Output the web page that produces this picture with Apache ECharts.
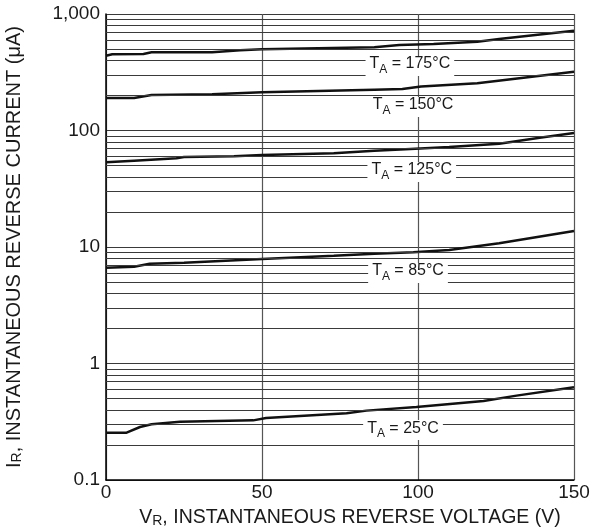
<!DOCTYPE html>
<html>
<head>
<meta charset="utf-8">
<script src="https://cdn.jsdelivr.net/npm/echarts@6/dist/echarts.min.js"></script>
<style>
  html, body { margin: 0; padding: 0; background: #fff; }
  #chart { width: 594px; height: 530px; }
</style>
</head>
<body>
<div id="chart"></div>
<script>
// curves: reverse voltage (V) / reverse current (uA)
const vr175 = [0, 2, 12, 14.6, 34, 43, 50, 86, 94, 105, 119, 126, 150]
const ir175 = [438, 451, 454, 469, 469, 488, 498, 518, 542, 552, 578, 610, 719]

const vr150 = [0, 9, 14.6, 34, 50, 86, 95, 101, 119, 150]
const ir150 = [190, 190, 202, 205, 213, 224, 227, 239, 254, 320]

const vr125 = [0, 9, 22.6, 25, 41, 50, 73, 86, 96, 110, 126, 139, 150]
const ir125 = [53.3, 55.1, 57.7, 59.3, 60.1, 61.6, 63.7, 67.1, 69.0, 72.2, 77.1, 86.8, 95.2]

const vr85 = [0, 9, 14, 25, 50, 73, 86, 98.5, 110, 126, 150]
const ir85 = [6.64, 6.78, 7.19, 7.33, 7.89, 8.41, 8.76, 9.0, 9.42, 10.76, 13.7]

const vr25 = [0, 6.6, 10.9, 14.6, 23.7, 47.2, 51.3, 77.1, 83.5, 99.5, 121, 131.6, 150]
const ir25 = [0.255, 0.255, 0.285, 0.301, 0.316, 0.325, 0.340, 0.374, 0.394, 0.424, 0.476, 0.530, 0.625]

// curve labels (temperature) and where they sit
const tempLabels = ['175°C', '150°C', '125°C', '85°C', '25°C']
const labelV = [97.4, 98.4, 98, 96.8, 95.2]
const labelI = [358, 159, 44, 5.98, 0.268]

// log grid: minor lines between decades
const minorGrid = [0.2, 0.3, 0.4, 0.5, 0.6, 0.7, 0.8, 0.9,
  2, 3, 4, 5, 6, 7, 8, 9,
  20, 30, 40, 50, 60, 70, 80, 90,
  200, 300, 400, 500, 600, 700, 800, 900]

const FONT = '"Liberation Sans", Arial, sans-serif'
const INK = '#1a1a1a'
const GRID = '#3a3a3a'

const zip = (xs, ys) => xs.map((x, i) => [x, ys[i]])

const curve = (xs, ys) => ({
  type: 'line',
  data: zip(xs, ys),
  showSymbol: false,
  symbol: 'none',
  z: 3,
  lineStyle: { color: '#111', width: 2.5 },
  animation: false
})

// text with a subscript, e.g. V_R
const subRich = (big, small) => ({
  t: { fontSize: big, color: INK, fontFamily: FONT, lineHeight: 14, verticalAlign: 'top' },
  s: { fontSize: small, color: INK, fontFamily: FONT, lineHeight: 20, verticalAlign: 'bottom' }
})

const myChart = echarts.init(document.getElementById('chart'))

const option = {
  backgroundColor: '#fff',
  animation: false,
  textStyle: { fontFamily: FONT },
  grid: { left: 106, right: 20, top: 14, bottom: 50, containLabel: false, outerBoundsMode: 'none' },
  xAxis: {
    type: 'value',
    min: 0,
    max: 150,
    interval: 50,
    name: '{t|V}{s|R}{t|, INSTANTANEOUS REVERSE VOLTAGE (V)}',
    nameLocation: 'middle',
    nameGap: 28,
    nameTextStyle: { rich: subRich(19.5, 14), padding: [0, 0, 0, 20] },
    axisLine: { lineStyle: { color: '#000', width: 1.5 } },
    axisTick: { show: false },
    axisLabel: { color: INK, fontSize: 19, fontFamily: FONT, margin: 3 },
    splitLine: { show: true, lineStyle: { color: '#555', width: 1.2 } }
  },
  yAxis: {
    type: 'log',
    logBase: 10,
    min: 0.1,
    max: 1000,
    name: '{t|I}{s|R}{t|, INSTANTANEOUS REVERSE CURRENT (μA)}',
    nameLocation: 'middle',
    nameRotate: 90,
    nameGap: 82,
    nameTextStyle: { rich: subRich(20, 14) },
    axisLine: { show: true, lineStyle: { color: '#000', width: 1.5 } },
    axisTick: { show: false },
    axisLabel: {
      color: INK,
      fontSize: 19,
      fontFamily: FONT,
      margin: 6,
      formatter: v => v >= 1000 ? '1,000' : String(v)
    },
    splitLine: { show: true, lineStyle: { color: GRID, width: 1 } }
  },
  series: [
    {
      // minor log grid lines
      type: 'line',
      data: [],
      z: 1,
      silent: true,
      markLine: {
        silent: true,
        symbol: 'none',
        animation: false,
        label: { show: false },
        lineStyle: { color: GRID, width: 1, type: 'solid' },
        data: minorGrid.map(v => ({ yAxis: v }))
      }
    },
    curve(vr175, ir175),
    curve(vr150, ir150),
    curve(vr125, ir125),
    curve(vr85, ir85),
    curve(vr25, ir25),
    {
      // temperature labels on white boxes
      type: 'scatter',
      data: [],
      z: 5,
      silent: true,
      markPoint: {
        silent: true,
        symbol: 'rect',
        symbolSize: 0,
        animation: false,
        label: {
          show: true,
          position: 'inside',
          backgroundColor: '#fff',
          padding: [0, 4],
          formatter: p => '{t|T}{s|A}{t| = ' + p.name + '}',
          rich: subRich(16, 12)
        },
        data: tempLabels.map((t, i) => ({ name: t, coord: [labelV[i], labelI[i]] }))
      }
    }
  ]
}

myChart.setOption(option)
window.addEventListener('resize', () => myChart.resize())
</script>
</body>
</html>
